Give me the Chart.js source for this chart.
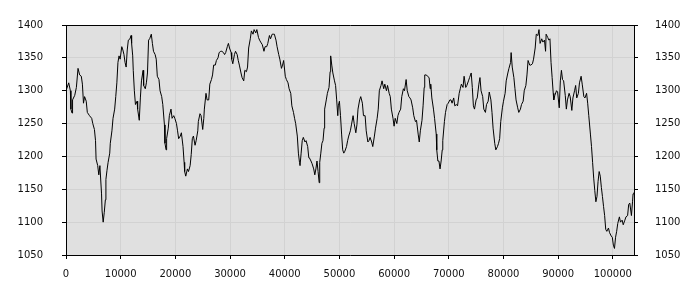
<!DOCTYPE html>
<html>
<head>
<meta charset="utf-8">
<script src="https://cdn.jsdelivr.net/npm/chart.js@4"></script>
<style>
  html, body { margin: 0; background: #fff; }
  #wrap { width: 700px; height: 300px; }
</style>
</head>
<body>
<div id="wrap"><canvas id="c"></canvas></div>
<script>
// ── Data ──────────────────────────────────────────────────────────────────────

const xValues = [
  0,500,800,900,1100,1200,1600,1900,2200,2500,
  2800,3000,3200,3400,3700,3900,4300,4700,4900,5200,
  5400,5500,5800,6000,6200,6500,6600,6800,7000,7200,
  7300,7500,7700,8000,8100,8400,8600,8900,9100,9300,
  9500,9700,9900,10200,10400,10600,10800,11000,11200,11400,
  11700,11900,12000,12200,12300,12500,12700,13000,13100,13400,
  13600,13800,14100,14200,14500,14700,14900,15100,15300,15600,
  15800,16000,16300,16500,16700,17000,17200,17500,17700,18000,
  18100,18300,18400,18700,18900,19200,19400,19700,19900,20200,
  20400,20600,20900,21100,21400,21600,21700,21900,22200,22400,
  22700,22900,23100,23300,23600,23800,24100,24200,24500,24700,
  25000,25200,25300,25600,25800,26100,26300,26600,26800,27000,
  27300,27500,27800,28000,28300,28500,28800,29000,29200,29500,
  29700,29900,30200,30300,30500,30800,31000,31300,31500,31700,
  32000,32200,32500,32700,33000,33200,33400,
  33700,33900,34200,34400,34700,34900,35200,35400,35600,35900,
  36200,36400,36700,36900,37200,37400,37700,37900,38100,38400,
  38600,38900,39100,39400,39600,39800,40100,40300,40600,40800,
  41100,41300,41600,41800,42000,42300,42500,42700,42800,43000,
  43200,43400,43700,43900,44200,44400,44500,44800,45000,45300,
  45500,45700,45900,46100,46300,46400,46600,46800,47000,47200,
  47300,47600,47800,48100,48300,48400,48600,48800,49100,49300,
  49500,49700,49800,50000,50200,50400,50600,50800,51000,51300,
  51500,51700,52000,52200,52500,52700,53000,53200,53400,53700,
  53900,54200,54400,54700,54900,55200,55400,55600,55900,56100,
  56400,56600,56900,57100,57300,57600,57800,58100,58300,58600,
  58800,59100,59300,59500,59800,60000,60200,60500,60700,60900,
  61200,61400,61700,61900,62200,62400,62700,62900,63100,63400,
  63600,63900,64100,64400,64600,64800,65100,65300,65500,65600,
  65900,66100,66400,66600,66700,66900,67200,67400,67700,67800,
  68000,68200,68400,68600,68800,68900,69200,69400,69700,69900,
  70200,70400,70600,70900,71100,71400,71600,71900,
  72100,72300,72600,72800,73100,73300,73600,73800,74100,74300,
  74500,74700,75000,75200,75500,75700,75900,76200,76400,76700,
  76900,77200,77400,77700,77900,78100,78400,78600,78900,79100,
  79300,79500,79800,80000,80300,80500,80800,81000,81300,81400,
  81600,81900,82100,82300,82600,82800,83100,83300,83600,83800,
  84100,84300,84500,84800,85000,85300,85500,85800,86000,86300,
  86500,86700,87000,87200,87500,87700,87800,88100,88300,88500,
  88700,88900,89100,89200,89400,89700,89900,90200,90400,90600,
  90800,91000,91300,91500,91700,92000,92200,92500,92700,93000,
  93200,93400,93700,93900,94200,94400,94700,94900,95200,95400,
  95600,95900,96100,96300,96500,96700,96900,97100,97300,97500,
  97700,97900,98100,98300,98500,98700,98900,99200,99400,99700,
  99900,100100,100300,100500,100700,100900,101200,101400,101700,101900,
  102200,102400,102700,102900,103100,103400,103600,103700,103850
];

const yValues = [
  1300,1312,1300,1272,1266,1286,1293,1305,1334,1324,
  1322,1310,1281,1291,1284,1267,1262,1258,1250,1241,
  1224,1196,1186,1172,1186,1143,1117,1100,1115,1134,
  1165,1179,1191,1205,1220,1239,1258,1272,1291,1312,
  1343,1353,1348,1367,1362,1355,1343,1336,1362,1377,
  1379,1384,1372,1353,1331,1300,1279,1284,1272,1255,
  1289,1315,1331,1308,1303,1312,1327,1377,1379,1386,
  1372,1360,1355,1348,1322,1317,1300,1291,1279,1248,
  1220,1210,1227,1243,1262,1272,1258,1262,1258,1250,
  1239,1227,1231,1236,1215,1191,1177,1170,1181,1177,
  1186,1203,1227,1231,1217,1224,1239,1253,1265,1262,
  1241,1258,1272,1296,1286,1286,1310,1317,1324,1339,
  1339,1346,1350,1358,1360,1360,1358,1355,1358,1367,
  1372,1365,1358,1348,1341,1355,1360,1355,1346,1339,
  1327,1320,1315,1331,1329,1336,1365,
  1379,1391,1386,1393,1388,1393,1381,1377,1374,1370,
  1360,1367,1367,1372,1384,1379,1386,1386,1386,1377,
  1367,1355,1348,1334,1339,1346,1322,1317,1312,1303,
  1296,1277,1267,1258,1250,1231,1205,1191,1186,1205,
  1224,1229,1222,1224,1215,1198,1198,1193,1189,1181,
  1172,1181,1193,1177,1160,1191,1205,1220,1224,1243,
  1272,1286,1296,1305,1329,1353,1339,1327,1315,1308,
  1286,1262,1277,1284,1262,1234,1210,1205,1208,1215,
  1224,1231,1239,1248,1262,1250,1236,1248,1272,1286,
  1291,1281,1262,1262,1239,1222,1224,1229,1222,1215,
  1231,1243,1258,1272,1300,1308,1315,1303,1310,1300,
  1308,1296,1291,1272,1258,1246,1258,1250,1262,1267,
  1272,1291,1303,1300,1317,1300,1291,1289,1286,1274,
  1262,1253,1255,1234,1222,1239,1255,1277,1305,1324,
  1324,1322,1320,1303,1310,1289,1272,1258,1234,1210,
  1193,1193,1181,1193,1210,1224,1253,1267,1279,1281,
  1286,1286,1281,1289,1277,1279,1277,1296,
  1303,1310,1305,1322,1305,1308,1315,1320,1327,1305,
  1277,1272,1286,1289,1310,1320,1300,1291,1272,1267,
  1279,1284,1298,1286,1267,1243,1220,1210,1215,1220,
  1227,1253,1274,1284,1296,1315,1327,1334,1343,1358,
  1336,1320,1303,1286,1274,1267,1272,1279,1284,1300,
  1308,1324,1346,1339,1339,1341,1348,1365,1386,1384,
  1393,1372,1379,1374,1377,1360,1386,1381,1377,1379,
  1343,1320,1296,1286,1293,1300,1298,1274,1315,1331,
  1317,1315,1293,1272,1286,1296,1291,1270,1289,1300,
  1308,1289,1296,1312,1322,1310,1291,1289,1296,1281,
  1262,1234,1215,1191,1167,1148,1131,1139,1162,1177,
  1170,1153,1139,1124,1110,1089,1086,1091,1084,1079,
  1077,1065,1060,1077,1086,1098,1108,1100,1103,1096,
  1103,1108,1110,1127,1129,1110,1131,1143,1145
];

const xTicks = [0,10000,20000,30000,40000,50000,60000,70000,80000,90000,100000];
const yTicks = [1050,1100,1150,1200,1250,1300,1350,1400];
const xMax = 103870;

// ── Chart ─────────────────────────────────────────────────────────────────────

const tickFont = { family: 'DejaVu Sans', size: 10 };
const gridCol = '#d2d2d2';
const plain = v => String(v);

const plotBg = {
  id: 'plotBg',
  beforeDraw(chart) {
    const { ctx, chartArea: a } = chart;
    ctx.save();
    ctx.fillStyle = '#e0e0e0';
    ctx.fillRect(a.left, a.top, a.right - a.left, a.bottom - a.top);
    ctx.restore();
  },
  afterDraw(chart) {
    // top edge of the frame; the other three come from the axis borders
    const { ctx, chartArea: a } = chart;
    ctx.save();
    ctx.strokeStyle = '#000';
    ctx.lineWidth = 1;
    ctx.beginPath();
    ctx.moveTo(a.left, a.top + 0.5);
    ctx.lineTo(a.right + 1, a.top + 0.5);
    ctx.stroke();
    ctx.restore();
  }
};

const yScale = (pos, pad) => ({
  position: pos,
  min: 1050, max: 1400,
  afterBuildTicks: s => { s.ticks = yTicks.map(v => ({ value: v })); },
  afterFit: s => { s.width = 66; },
  grid: { color: gridCol, tickColor: '#000', tickLength: 4, drawOnChartArea: pos === 'left' },
  border: { color: '#000' },
  ticks: { font: tickFont, color: '#111', padding: pad, callback: plain }
});

new Chart(document.getElementById('c'), {
  type: 'line',
  data: {
    datasets: [{
      data: xValues.map((x, i) => ({ x, y: yValues[i] })),
      borderColor: '#000',
      borderWidth: 1,
      pointRadius: 0,
      tension: 0,
      fill: false
    }]
  },
  options: {
    responsive: true,
    maintainAspectRatio: false,
    animation: false,
    layout: { padding: { top: 10, left: 0, right: 0, bottom: 0 } },
    plugins: { legend: { display: false }, tooltip: { enabled: false } },
    scales: {
      x: {
        type: 'linear',
        min: 0, max: xMax,
        afterBuildTicks: s => { s.ticks = xTicks.map(v => ({ value: v })); },
        afterFit: s => { s.height = 45; },
        grid: { color: gridCol, tickColor: '#000', tickLength: 4 },
        border: { color: '#000' },
        ticks: { font: tickFont, color: '#111', padding: 9, maxRotation: 0, autoSkip: false, callback: plain }
      },
      y: yScale('left', 19),
      y2: yScale('right', 17)
    }
  },
  plugins: [plotBg]
});
</script>
</body>
</html>
